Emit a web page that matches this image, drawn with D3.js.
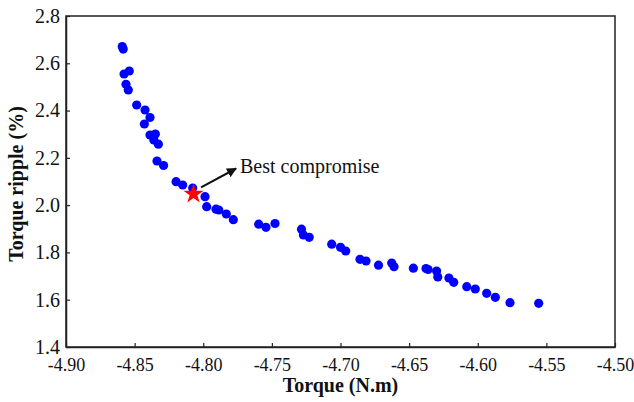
<!DOCTYPE html>
<html><head><meta charset="utf-8">
<script src="https://cdn.jsdelivr.net/npm/d3@7"></script>
<style>body{margin:0;background:#fff}svg{display:block}text{font-family:"Liberation Serif","Times New Roman",serif;fill:#111}</style>
</head><body><svg id="c" width="634" height="402"></svg>
<script>
const torque = [-4.859,-4.8583,-4.8577,-4.8539,-4.8563,-4.8546,-4.8485,-4.8424,-4.8388,-4.8429,-4.8388,-4.8349,-4.836,-4.8327,-4.8337,-4.8289,-4.8198,-4.815,-4.8077,-4.7987,-4.7975,-4.7907,-4.7887,-4.7832,-4.7781,-4.7596,-4.7543,-4.7477,-4.7284,-4.727,-4.7228,-4.7064,-4.7,-4.6962,-4.6858,-4.6814,-4.6723,-4.6627,-4.661,-4.6469,-4.6377,-4.6362,-4.63,-4.6291,-4.621,-4.6175,-4.608,-4.6018,-4.5935,-4.5872,-4.5765,-4.5556];
const ripple = [2.671,2.660,2.5547,2.5674,2.5111,2.487,2.4236,2.4024,2.3707,2.3432,2.2967,2.3009,2.2755,2.2578,2.1867,2.1677,2.0991,2.0852,2.0725,2.0357,1.9934,1.9828,1.9794,1.9625,1.9384,1.9194,1.9063,1.9223,1.8982,1.8737,1.864,1.8348,1.8217,1.806,1.7709,1.7637,1.746,1.7553,1.7396,1.7333,1.732,1.7278,1.7214,1.696,1.6918,1.6736,1.655,1.6453,1.6271,1.6102,1.5874,1.5848];
const best = [-4.8071, 2.0471];
const arrowFrom = [-4.8016, 2.0747];
const arrowTo = [-4.7761, 2.155];
const labelAt = [-4.7732, 2.136];
const labelText = "Best compromise";
const xTicks = [-4.90,-4.85,-4.80,-4.75,-4.70,-4.65,-4.60,-4.55,-4.50];
const yTicks = [1.4,1.6,1.8,2.0,2.2,2.4,2.6,2.8];
const xTitle = "Torque (N.m)";
const yTitle = "Torque ripple (%)";

const L=66,R=615,T=16,B=347;
const svg=d3.select("#c");
const x=d3.scaleLinear().domain([-4.90,-4.50]).range([L,R]);
const y=d3.scaleLinear().domain([1.4,2.8]).range([B,T]);
const loc=d3.formatLocale({decimal:".",thousands:",",grouping:[3],currency:["",""],minus:"-"});

// frame
svg.append("rect").attr("x",L).attr("y",T).attr("width",R-L).attr("height",B-T)
  .attr("fill","none").attr("stroke","#222").attr("stroke-width",1.5);

const xa=svg.append("g").attr("transform",`translate(0,${B})`)
  .call(d3.axisBottom(x).tickValues(xTicks).tickFormat(loc.format(".2f")).tickSizeInner(-4).tickSizeOuter(0).tickPadding(11));
const ya=svg.append("g").attr("transform",`translate(${L},0)`)
  .call(d3.axisLeft(y).tickValues(yTicks).tickFormat(loc.format(".1f")).tickSizeInner(-4).tickSizeOuter(0).tickPadding(6));
[xa,ya].forEach(a=>{a.select(".domain").attr("stroke","#222").attr("stroke-width",1.5);
  a.selectAll(".tick line").attr("stroke","#222").attr("stroke-width",1.2);
  a.selectAll("text").attr("font-size",20).attr("font-family","Liberation Serif").attr("fill","#111");});
xa.selectAll(".tick text").attr("font-size",18);

// points
svg.append("g").selectAll("circle").data(torque.map((t,i)=>[t,ripple[i]])).join("circle")
  .attr("cx",d=>x(d[0])).attr("cy",d=>y(d[1])).attr("r",4.6).attr("fill","#0000ff");

// star
svg.append("path").attr("d",d3.symbol().type(d3.symbolStar).size(125)())
  .attr("transform",`translate(${x(best[0])},${y(best[1])})`).attr("fill","#ff0000");

// arrow
svg.append("defs").append("marker").attr("id","ah").attr("viewBox","0 0 10 10").attr("refX",9).attr("refY",5)
  .attr("markerWidth",10).attr("markerHeight",10).attr("markerUnits","userSpaceOnUse").attr("orient","auto")
  .append("path").attr("d","M0,0 L10,5 L0,10 Z").attr("fill","#111");
svg.append("line").attr("x1",x(arrowFrom[0])).attr("y1",y(arrowFrom[1])).attr("x2",x(arrowTo[0])).attr("y2",y(arrowTo[1]))
  .attr("stroke","#111").attr("stroke-width",2).attr("marker-end","url(#ah)");
svg.append("text").attr("x",x(labelAt[0])).attr("y",y(labelAt[1])).attr("font-size",20).text(labelText);

// titles
svg.append("text").attr("x",(L+R)/2).attr("y",392).attr("text-anchor","middle").attr("font-size",20).attr("font-weight","bold").text(xTitle);
svg.append("text").attr("transform",`translate(23,184) rotate(-90)`).attr("text-anchor","middle").attr("font-size",20).attr("font-weight","bold").text(yTitle);
</script></body></html>
